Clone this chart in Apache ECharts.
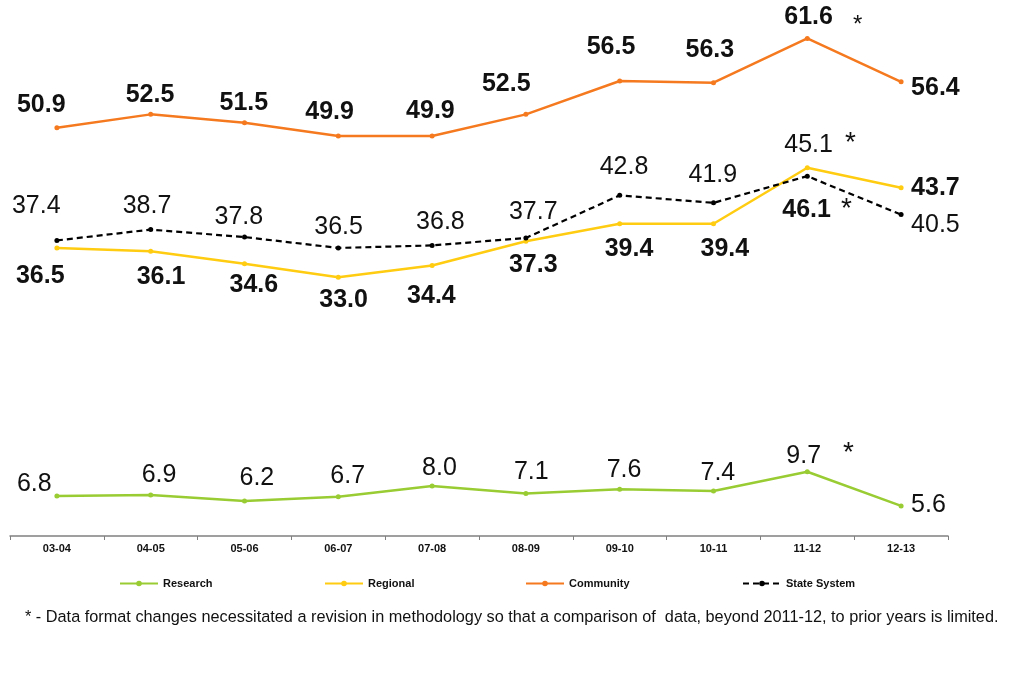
<!DOCTYPE html>
<html>
<head>
<meta charset="utf-8">
<script src="https://cdn.jsdelivr.net/npm/echarts@6/dist/echarts.min.js"></script>
<style>
html,body{margin:0;padding:0;background:#fff;}
#c{width:1024px;height:683px;}
</style>
</head>
<body>
<div id="c"></div>
<script>
// ---- data ----
var categories = ['03-04','04-05','05-06','06-07','07-08','08-09','09-10','10-11','11-12','12-13'];
var research  = [6.8, 6.9, 6.2, 6.7, 8.0, 7.1, 7.6, 7.4, 9.7, 5.6];
var regional  = [36.5, 36.1, 34.6, 33.0, 34.4, 37.3, 39.4, 39.4, 46.1, 43.7];
var community = [50.9, 52.5, 51.5, 49.9, 49.9, 52.5, 56.5, 56.3, 61.6, 56.4];
var stateSys  = [37.4, 38.7, 37.8, 36.5, 36.8, 37.7, 42.8, 41.9, 45.1, 40.5];
var starred = ['11-12'];
var footnote = '* - Data format changes necessitated a revision in methodology so that a comparison of  data, beyond 2011-12, to prior years is limited.';

// ---- label placement (styling only: [left-edge dx, center dy] from point) ----
var researchLbl  = [[-40,-12],[-9,-20],[-5,-23],[-8,-21],[-10,-18],[-12,-21],[-13,-19],[-13,-18],[-21,-16],[10,-1]];
var regionalLbl  = [[-41,28],[-14,26],[-15,21],[-19,23],[-25,31],[-17,24],[-15,25],[-13,25],[-25,42],[10,0]];
var communityLbl = [[-40,-23],[-25,-19],[-25,-20],[-33,-24],[-26,-25],[-44,-30],[-33,-34],[-28,-33],[-23,-21],[10,6]];
var stateLbl     = [[-45,-34],[-28,-23],[-30,-20],[-24,-21],[-16,-23],[-17,-26],[-20,-28],[-25,-28],[-23,-31],[10,11]];

var FONT = '"Liberation Sans", Arial, sans-serif';

function buildData(vals, offs, bold, ast) {
  return vals.map(function (v, i) {
    var star = starred.indexOf(categories[i]) >= 0;
    return {
      value: v,
      label: {
        offset: offs[i],
        formatter: star ? '{n|' + v.toFixed(1) + '}{a|*}' : '{n|' + v.toFixed(1) + '}',
        rich: {
          n: {fontSize: 25, fontWeight: bold ? 'bold' : 'normal', color: '#111', fontFamily: FONT},
          a: {fontSize: ast.size, color: '#111', fontFamily: FONT, padding: [ast.lower, 0, ast.raise, ast.gap]}
        }
      }
    };
  });
}

function mkSeries(name, vals, offs, bold, color, dashed, ast) {
  return {
    name: name,
    type: 'line',
    data: buildData(vals, offs, bold, ast),
    symbol: 'circle',
    symbolSize: 5,
    lineStyle: {color: color, width: dashed ? 2.2 : 2.5, type: dashed ? [6, 4] : 'solid'},
    itemStyle: {color: color},
    label: {show: true, position: 'inside', align: 'left', verticalAlign: 'middle'},
    emphasis: {disabled: true},
    animation: false,
    z: dashed ? 3 : 2
  };
}

var chart = echarts.init(document.getElementById('c'), null, {renderer: 'canvas'});

function legendAt(name, left) {
  return {
    data: [name], left: left, top: 578, padding: 0,
    itemWidth: 38, itemHeight: 7, itemGap: 4,
    textStyle: {fontFamily: FONT, fontSize: 11, fontWeight: 'bold', color: '#111'},
    selectedMode: false
  };
}

chart.setOption({
  backgroundColor: '#fff',
  animation: false,
  grid: {left: 10, right: 76, top: 10, bottom: 147, containLabel: false},
  xAxis: {
    type: 'category',
    data: categories,
    boundaryGap: true,
    axisLine: {show: true, lineStyle: {color: '#808080', width: 1.5}},
    axisTick: {show: true, alignWithLabel: false, length: 4, lineStyle: {color: '#808080'}},
    axisLabel: {fontFamily: FONT, fontSize: 11, fontWeight: 'bold', color: '#111', margin: 7}
  },
  yAxis: {
    type: 'value', min: 2, max: 65, show: false,
    splitLine: {show: false}
  },
  legend: [
    legendAt('Research', 119),
    legendAt('Regional', 324),
    legendAt('Community', 525),
    legendAt('State System', 742)
  ],
  series: [
    mkSeries('Research', research, researchLbl, false, '#99CC33', false, {size: 28, raise: 4, lower: 0, gap: 22}),
    mkSeries('Regional', regional, regionalLbl, true, '#FFCC11', false, {size: 28, raise: 2, lower: 0, gap: 10}),
    mkSeries('Community', community, communityLbl, true, '#F57A1F', false, {size: 24, raise: 0, lower: 16, gap: 20}),
    mkSeries('State System', stateSys, stateLbl, false, '#000000', true, {size: 28, raise: 4, lower: 0, gap: 12})
  ],
  graphic: [{
    type: 'text', left: 25, top: 610,
    style: {text: footnote, fontFamily: FONT, fontSize: 16.3, fill: '#111'}
  }]
});
</script>
</body>
</html>
